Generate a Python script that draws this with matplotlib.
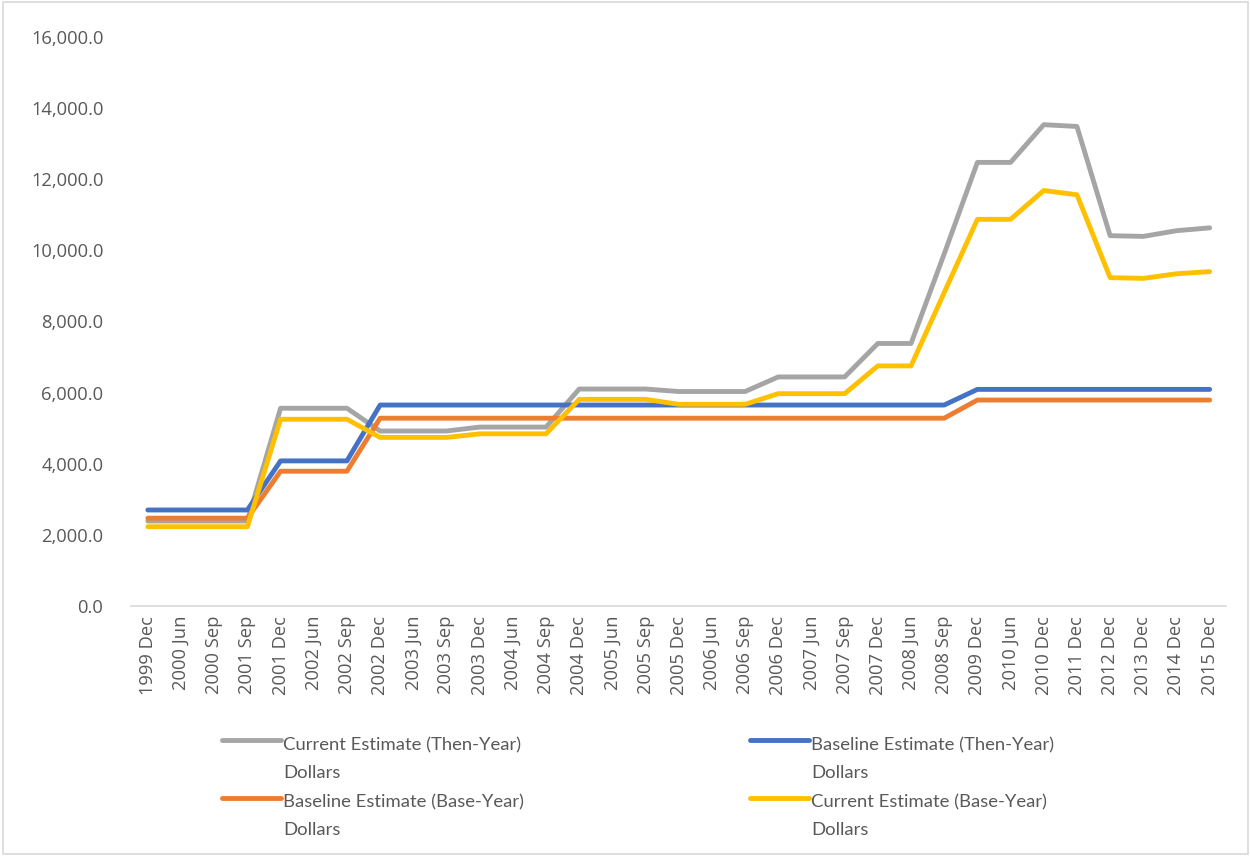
import numpy as np
import matplotlib
matplotlib.use("Agg")
import matplotlib.pyplot as plt
from matplotlib.patches import Rectangle
from matplotlib.legend_handler import HandlerLine2D

dates = ["1999 Dec", "2000 Jun", "2000 Sep", "2001 Sep", "2001 Dec", "2002 Jun",
         "2002 Sep", "2002 Dec", "2003 Jun", "2003 Sep", "2003 Dec", "2004 Jun",
         "2004 Sep", "2004 Dec", "2005 Jun", "2005 Sep", "2005 Dec", "2006 Jun",
         "2006 Sep", "2006 Dec", "2007 Jun", "2007 Sep", "2007 Dec", "2008 Jun",
         "2008 Sep", "2009 Dec", "2010 Jun", "2010 Dec", "2011 Dec", "2012 Dec",
         "2013 Dec", "2014 Dec", "2015 Dec"]

# current estimate, then-year dollars
cur_then = [2390, 2390, 2390, 2390, 5560, 5560, 5560, 4920, 4920, 4920, 5030,
            5030, 5030, 6100, 6100, 6100, 6030, 6030, 6030, 6440, 6440, 6440,
            7380, 7380, 9900, 12470, 12470, 13530, 13480, 10410, 10390, 10550,
            10630]
# baseline estimate, then-year dollars
base_then = [2700, 2700, 2700, 2700, 4080, 4080, 4080, 5650, 5650, 5650, 5650,
             5650, 5650, 5650, 5650, 5650, 5650, 5650, 5650, 5650, 5650, 5650,
             5650, 5650, 5650, 6090, 6090, 6090, 6090, 6090, 6090, 6090, 6090]
# baseline estimate, base-year dollars
base_base = [2470, 2470, 2470, 2470, 3790, 3790, 3790, 5280, 5280, 5280, 5280,
             5280, 5280, 5280, 5280, 5280, 5280, 5280, 5280, 5280, 5280, 5280,
             5280, 5280, 5280, 5790, 5790, 5790, 5790, 5790, 5790, 5790, 5790]
# current estimate, base-year dollars
cur_base = [2230, 2230, 2230, 2230, 5250, 5250, 5250, 4740, 4740, 4740, 4840,
            4840, 4840, 5810, 5810, 5810, 5670, 5670, 5670, 5970, 5970, 5970,
            6750, 6750, 8810, 10870, 10870, 11680, 11560, 9230, 9210, 9340,
            9400]

labels = ["Current Estimate (Then-Year)\nDollars",
          "Baseline Estimate (Then-Year)\nDollars",
          "Baseline Estimate (Base-Year)\nDollars",
          "Current Estimate (Base-Year)\nDollars"]
colors = ["#A5A5A5", "#4472C4", "#ED7D31", "#FFC000"]
txt_color = "#595959"


class UpHandler(HandlerLine2D):
    # put the legend line next to the first text line, like excel does
    def create_artists(self, legend, orig_handle, xdescent, ydescent, width,
                       height, fontsize, trans):
        arts = super().create_artists(legend, orig_handle, xdescent, ydescent,
                                      width, height, fontsize, trans)
        for a in arts:
            a.set_ydata(np.asarray(a.get_ydata()) + 1.0 * fontsize)
        return arts


fig = plt.figure(figsize=(12.5, 8.56), dpi=100)
ax = fig.add_axes([0.105, 0.292, 0.876, 0.665])

x = np.arange(len(dates))
lines = []
for y, lab, c in zip([cur_then, base_then, base_base, cur_base], labels, colors):
    ln, = ax.plot(x, y, color=c, lw=3.5, label=lab, solid_capstyle="round",
                  solid_joinstyle="round")
    lines.append(ln)

ax.set_xlim(-0.5, len(dates) - 0.5)
ax.set_ylim(0, 16000)
ax.set_yticks(np.arange(0, 16001, 2000))
ax.set_yticklabels([f"{v:,.1f}" for v in np.arange(0, 16001, 2000)])
ax.set_xticks(x)
ax.set_xticklabels(dates, rotation=90)

for s in ["top", "right", "left"]:
    ax.spines[s].set_visible(False)
ax.spines["bottom"].set_color("#D9D9D9")
ax.spines["bottom"].set_linewidth(1.2)
ax.tick_params(axis="y", length=0, pad=20, labelsize=13.2, labelcolor=txt_color)
ax.tick_params(axis="x", length=0, pad=7, labelsize=13.2, labelcolor=txt_color)
for t in ax.get_xticklabels() + ax.get_yticklabels():
    t.set_fontfamily(["Open Sans", "DejaVu Sans"])

# legend rows: gray, blue / orange, yellow
order = [0, 2, 1, 3]
leg = fig.legend([lines[i] for i in order], [labels[i] for i in order],
                 ncol=2, loc="upper left", bbox_to_anchor=(0.1776, 0.139),
                 frameon=False, handlelength=3.2, handletextpad=0.1,
                 columnspacing=12.25, labelspacing=0.72, borderpad=0,
                 borderaxespad=0, handler_map={matplotlib.lines.Line2D: UpHandler()},
                 prop={"family": ["Lato", "DejaVu Sans"], "size": 13.3})
for t in leg.get_texts():
    t.set_color(txt_color)
    t.set_linespacing(1.9)

fig.patches.append(Rectangle((0.002, 0.002), 0.996, 0.996, transform=fig.transFigure,
                             fill=False, edgecolor="#D9D9D9", lw=1.2))

fig.savefig("out.png", dpi=100)
